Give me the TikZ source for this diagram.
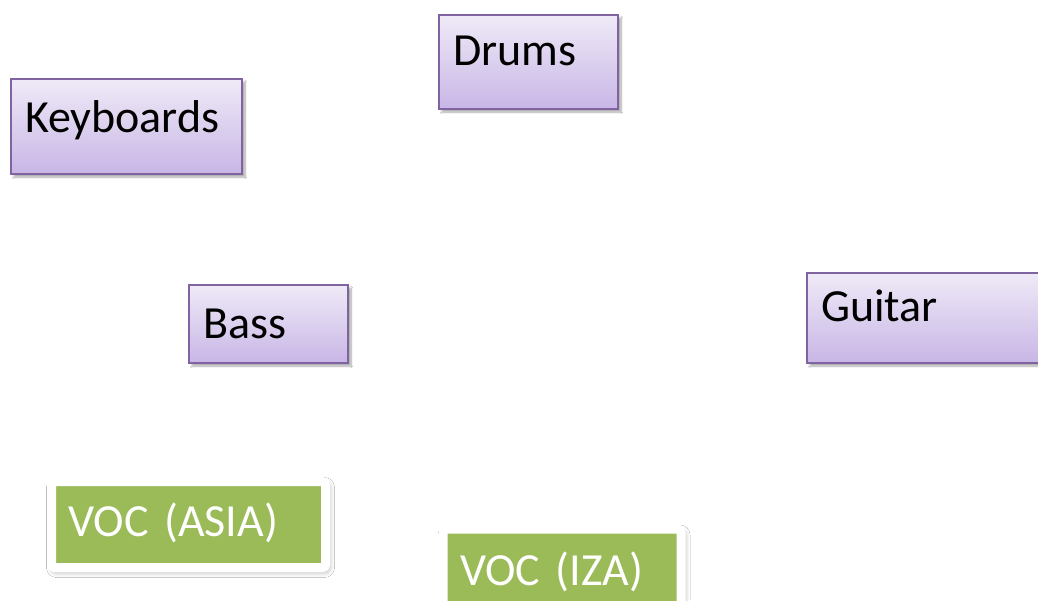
\documentclass[tikz,border=0pt]{standalone}
\usepackage{fontspec}
\setmainfont{Carlito}
\usetikzlibrary{shadows.blur}
\definecolor{bandedge}{HTML}{8064A2}
\definecolor{bandtop}{HTML}{EFEAF7}
\definecolor{bandbottom}{HTML}{C8B6E6}
\definecolor{vocgreen}{HTML}{9BBB59}
\begin{document}
\begin{tikzpicture}[x=1pt, y=-1pt,
    instbox/.style={draw=bandedge, line width=1.8pt, top color=bandtop, bottom color=bandbottom,
      anchor=north west, outer sep=0pt, inner ysep=0pt, inner xsep=14pt, align=left,
      font=\fontsize{46pt}{50pt}\selectfont,
      blur shadow={shadow xshift=3pt, shadow yshift=-3pt, shadow blur steps=10, shadow opacity=35}},
    vocbox/.style={draw=white, line width=9pt, fill=vocgreen, rounded corners=3pt, text=white,
      anchor=north west, outer sep=0pt, inner ysep=0pt, inner xsep=17pt, align=left,
      font=\fontsize{46pt}{50pt}\selectfont,
      blur shadow={shadow xshift=2pt, shadow yshift=-3pt, shadow blur radius=7pt,
        shadow blur steps=20, shadow opacity=40}}]
    \useasboundingbox[fill=white] (0,0) rectangle (1038,600);

    % Band instruments
    \node[instbox, text width=151pt, text height=50pt, text depth=44pt] (drums) at (439,15) {Drums};
    \node[instbox, text width=203pt, text height=53pt, text depth=42pt] (keys) at (11,79) {Keyboards};
    \node[instbox, text width=131pt, text height=53pt, text depth=25pt] (bass) at (189,285) {Bass};
    \node[instbox, text width=225pt, text height=48pt, text depth=42pt] (guitar) at (807,273) {Guitar};

    % Vocals
    \node[vocbox, text width=240pt, text height=55pt, text depth=31pt] (vocasia) at (51.5,481.5) {VOC (ASIA)};
    \node[vocbox, text width=204pt, text height=56pt, text depth=30pt] (vociza) at (443,529) {VOC (IZA)};
\end{tikzpicture}
\end{document}
